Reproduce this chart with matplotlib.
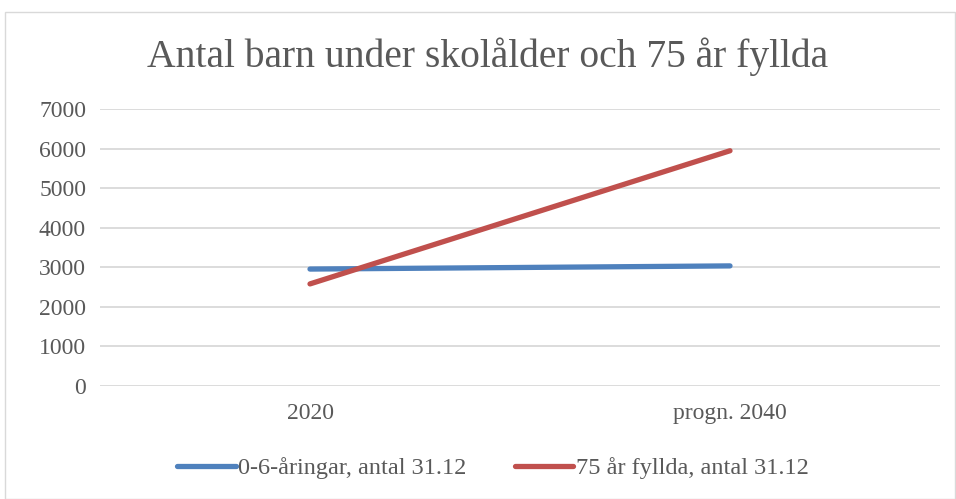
import matplotlib.pyplot as plt
from matplotlib.patches import Rectangle

categories = ["2020", "progn. 2040"]
barn = [2955, 3035]
aldre = [2580, 5945]
labels = ["0-6-åringar, antal 31.12", "75 år fyllda, antal 31.12"]
yticks = [0, 1000, 2000, 3000, 4000, 5000, 6000, 7000]

plt.rcParams['font.family'] = ['Liberation Serif', 'DejaVu Serif']

fig = plt.figure(figsize=(9.56, 4.99), dpi=100)
W, H = 956, 499
ax = fig.add_axes([100 / W, 1 - 386 / H, 840 / W, 277 / H])

x = [0, 1]
ax.plot(x, barn, color='#4F81BD', lw=3.8, solid_capstyle='round', label=labels[0])
ax.plot(x, aldre, color='#C0504D', lw=3.8, solid_capstyle='round', label=labels[1])

ax.set_xlim(-0.5, 1.5)
ax.set_ylim(0, 7000)
ax.set_yticks(yticks)
ax.set_xticks(x)
ax.set_xticklabels(categories)
for s in ax.spines.values():
    s.set_visible(False)
ax.grid(axis='y', color='#d9d9d9', lw=1.3)
ax.set_axisbelow(True)
ax.tick_params(length=0, labelsize=17, colors='#595959')
ax.tick_params(axis='y', pad=10)
ax.tick_params(axis='x', pad=12)

fig.text(488 / W, 1 - 57 / H, "Antal barn under skolålder och 75 år fyllda",
         ha='center', va='center', fontsize=28.5, color='#595959')

fig.legend(loc='center', bbox_to_anchor=(493 / W, 1 - 468 / H), ncol=2,
           frameon=False, fontsize=17.5, labelcolor='#595959',
           handlelength=2.4, handletextpad=0.1, columnspacing=2.0)

fig.patches.append(Rectangle((5 / W, 0), 950 / W, 1 - 12 / H, transform=fig.transFigure,
                             fill=False, edgecolor='#d9d9d9', lw=1.0))

fig.savefig("out.png", dpi=100)
